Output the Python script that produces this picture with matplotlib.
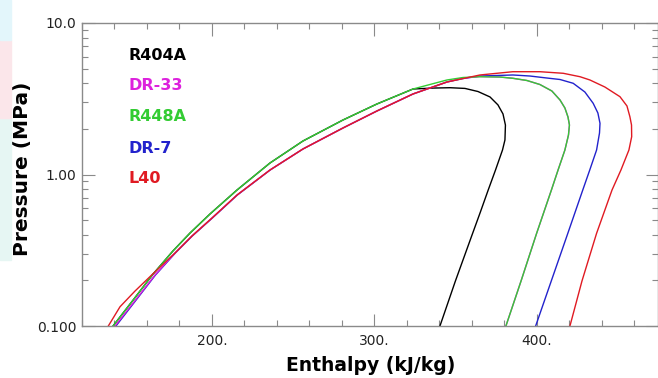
import matplotlib
matplotlib.use('Agg')
import matplotlib.pyplot as plt
from matplotlib.patches import Rectangle
from matplotlib.ticker import MultipleLocator, LogLocator, NullFormatter

# Saturation domes (enthalpy kJ/kg, pressure MPa)
r404a_h = [139.1, 151.4, 163.7, 176.0, 186.5, 198.8, 215.4, 235.7, 256.0, 280.6, 301.5, 323.7,
           336.0, 346.5, 355.7, 363.7, 371.1, 376.0, 379.1, 380.6, 380.3, 378.8, 374.5, 370.0,
           365.2, 359.6, 349.8, 340.3]
r404a_p = [0.100, 0.148, 0.220, 0.313, 0.411, 0.549, 0.790, 1.191, 1.664, 2.289, 2.92, 3.667,
           3.72, 3.74, 3.70, 3.53, 3.25, 2.88, 2.51, 2.12, 1.69, 1.451, 1.071, 0.790,
           0.566, 0.387, 0.198, 0.100]

dr33_h = [140.3, 152.6, 164.9, 177.2, 187.7, 200.0, 215.4, 235.7, 256.0, 280.6, 301.5, 323.7,
          344.6, 354.5, 364.9, 377.2, 385.2, 393.8, 401.8, 409.2, 414.2, 417.2, 419.1, 420.0,
          419.4, 417.2, 413.0, 408.9, 399.8, 390.2, 380.9]
dr33_p = [0.100, 0.147, 0.217, 0.303, 0.393, 0.516, 0.732, 1.071, 1.474, 2.027, 2.625, 3.40,
          4.079, 4.33, 4.43, 4.40, 4.315, 4.174, 3.927, 3.557, 3.102, 2.748, 2.396, 2.122,
          1.822, 1.451, 1.071, 0.790, 0.409, 0.198, 0.100]

r448a_h = [139.1, 151.4, 163.7, 176.0, 186.5, 198.8, 215.4, 235.7, 256.0, 280.6, 301.5, 323.7,
           344.6, 354.5, 364.9, 377.2, 385.2, 393.8, 401.8, 409.2, 414.2, 417.2, 419.1, 420.0,
           419.4, 417.2, 413.0, 408.9, 399.8, 390.2, 380.9]
r448a_p = [0.100, 0.148, 0.220, 0.313, 0.411, 0.549, 0.790, 1.191, 1.664, 2.289, 2.92, 3.667,
           4.206, 4.368, 4.42, 4.40, 4.315, 4.174, 3.927, 3.557, 3.102, 2.748, 2.396, 2.122,
           1.822, 1.451, 1.071, 0.790, 0.409, 0.198, 0.100]

dr7_h = [140.9, 153.0, 165.2, 177.4, 187.9, 200.2, 215.6, 235.8, 256.0, 280.6, 301.5, 323.7,
         344.6, 354.5, 364.9, 385.2, 395.7, 406.0, 414.2, 422.3, 429.5, 434.6, 437.5, 438.8,
         438.5, 436.7, 432.5, 428.2, 418.3, 408.8, 399.2]
dr7_p = [0.100, 0.147, 0.217, 0.303, 0.393, 0.516, 0.732, 1.071, 1.474, 2.027, 2.625, 3.40,
         4.079, 4.30, 4.467, 4.538, 4.467, 4.335, 4.237, 4.00, 3.504, 2.951, 2.547, 2.178,
         1.879, 1.451, 1.071, 0.790, 0.389, 0.198, 0.100]

l40_h = [136.2, 143.4, 152.6, 161.8, 177.2, 187.7, 200.0, 215.4, 235.7, 256.0, 280.6, 301.5,
         323.7, 344.6, 364.9, 385.2, 401.8, 416.2, 426.5, 432.6, 441.8, 451.1, 455.4, 457.2,
         458.2, 458.3, 456.6, 451.7, 446.2, 436.7, 427.7, 420.3]
l40_p = [0.100, 0.134, 0.170, 0.2115, 0.303, 0.393, 0.516, 0.732, 1.071, 1.474, 2.027, 2.625,
         3.40, 4.079, 4.538, 4.77, 4.77, 4.656, 4.42, 4.206, 3.78, 3.262, 2.833, 2.407,
         2.122, 1.776, 1.451, 1.071, 0.790, 0.409, 0.198, 0.100]

names = ['R404A', 'DR-33', 'R448A', 'DR-7', 'L40']
colors = ['#000000', '#dd22dd', '#33cc33', '#2222cc', '#e01a22']

fig = plt.figure(figsize=(6.58, 3.78), dpi=100)

# faint coloured strip at the left edge of the screenshot
fig.patches.append(Rectangle((0, 118 / 378), 11 / 658, 260 / 378 - 118 / 378 + 0.0,
                             transform=fig.transFigure, color='#e6f6f3', zorder=0))
fig.patches.append(Rectangle((0, 1 - 118 / 378), 11 / 658, 78 / 378,
                             transform=fig.transFigure, color='#fbe6ea', zorder=0))
fig.patches.append(Rectangle((0, 1 - 40 / 378), 11 / 658, 40 / 378,
                             transform=fig.transFigure, color='#e3f6fb', zorder=0))

ax = fig.add_axes([82 / 658, 1 - 326 / 378, 576 / 658, 303 / 378])

ax.plot(r404a_h, r404a_p, color=colors[0], lw=1.0)
ax.plot(dr7_h, dr7_p, color=colors[3], lw=1.0)
ax.plot(dr33_h, dr33_p, color=colors[1], lw=1.0)
ax.plot(r448a_h, r448a_p, color=colors[2], lw=1.0)
ax.plot(l40_h, l40_p, color=colors[4], lw=1.0)

ax.set_yscale('log')
ax.set_xlim(120, 474.5)
ax.set_ylim(0.1, 10)
ax.set_xticks([200, 300, 400])
ax.set_xticklabels(['200.', '300.', '400.'])
ax.xaxis.set_minor_locator(MultipleLocator(20))
ax.set_yticks([0.1, 1, 10])
ax.set_yticklabels(['0.100', '1.00', '10.0'])
ax.yaxis.set_minor_locator(LogLocator(base=10, subs=range(2, 10)))
ax.yaxis.set_minor_formatter(NullFormatter())

ax.tick_params(which='both', direction='in', top=True, right=True, color='#8a8a8a', width=0.8,
               labelsize=10, labelcolor='#222222')
ax.tick_params(which='major', length=9)
ax.tick_params(which='minor', length=4.5)
ax.tick_params(axis='x', pad=6)
ax.tick_params(axis='y', pad=4)
for s in ax.spines.values():
    s.set_color('#8a8a8a')
    s.set_linewidth(1.0)

ax.set_xlabel('Enthalpy (kJ/kg)', fontsize=13.5, fontweight='bold', va='center')
ax.xaxis.set_label_coords(0.501, -0.129)
ax.set_ylabel('Pressure (MPa)', fontsize=14.5, fontweight='bold', va='center')
ax.yaxis.set_label_coords(-0.103, 0.518)

# coloured labels instead of a legend box
label_y = [0.894, 0.795, 0.690, 0.587, 0.488]
for name, c, yy in zip(names, colors, label_y):
    ax.text(0.08, yy, name, color=c, fontsize=11.5, fontweight='bold',
            transform=ax.transAxes, va='center', ha='left')

fig.savefig('out.png', dpi=100)
